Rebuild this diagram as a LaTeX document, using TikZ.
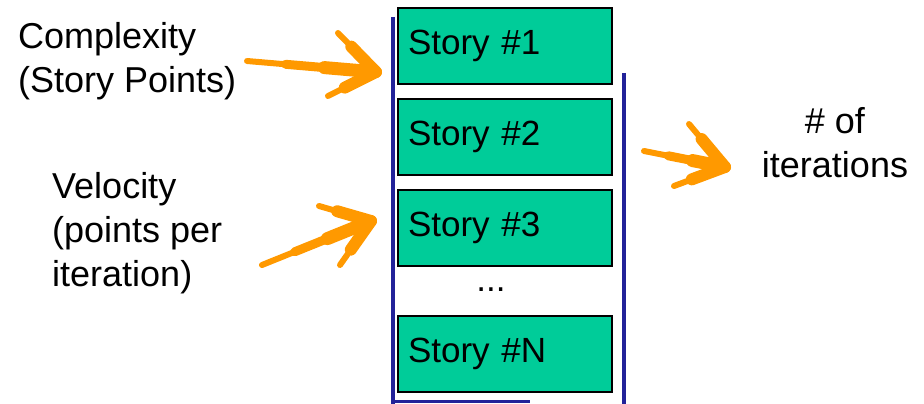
\documentclass[tikz,border=0pt]{standalone}
\usepackage{fontspec}
\setmainfont{Liberation Sans}
\usetikzlibrary{calc}
\begin{document}
\begin{tikzpicture}[x=1pt,y=-1pt,
  storybox/.style={draw=black, line width=2pt, fill=storygreen, rectangle,
    text width=194pt, align=left, inner xsep=10pt, inner ysep=0pt,
    minimum height=76pt, anchor=north west,
    font=\fontsize{35}{42}\selectfont},
  label/.style={inner sep=0pt, font=\fontsize{36}{44}\selectfont},
  brush/.style={draw=brushorange, line cap=round, line join=round},
  frame/.style={draw=framebluedark, line width=4.5pt}
]
\definecolor{storygreen}{RGB}{0,204,153}
\definecolor{brushorange}{RGB}{255,153,0}
\definecolor{framebluedark}{RGB}{34,34,153}
\useasboundingbox (0,0) rectangle (924,404);

% the stack of stories
\node[storybox] (s1) at (397,7)   {Story \#1};
\node[storybox] (s2) at (397,98)  {Story \#2};
\node[storybox] (s3) at (397,189) {Story \#3};
\node[label, font=\fontsize{35}{42}\selectfont] (dots) at (491,290) {...};
\node[storybox] (sn) at (397,315) {Story \#N};

% the backlog bracket around the stack
\coordinate (fl) at (393,17);
\coordinate (fr) at (624,73);
\draw[frame] (fl) -- (393,404);
\draw[frame] (fr) -- (624,404);
\draw[framebluedark, line width=3pt] (393,401) -- (530,401);

% labels
\node[label, align=left, anchor=north west] (cx) at (18,22)
  {Complexity\\(Story Points)};
\node[label, align=left, anchor=north west] (vel) at (52,172)
  {Velocity\\(points per\\iteration)};
\node[label, align=center, anchor=north] (it) at (835,107)
  {\# of\\iterations};

% hand-brushed arrows
\coordinate (a1t) at (247,61);  \coordinate (a1p) at (376,72);
\coordinate (a1u) at (338,33);  \coordinate (a1l) at (328,96);
\coordinate (a2t) at (262,265); \coordinate (a2p) at (371,221);
\coordinate (a2u) at (319,206); \coordinate (a2l) at (340,265);
\coordinate (a3t) at (644,151); \coordinate (a3p) at (725,167);
\coordinate (a3u) at (689,124); \coordinate (a3l) at (674,186);

\foreach \t/\p/\u/\l in {a1t/a1p/a1u/a1l, a2t/a2p/a2u/a2l, a3t/a3p/a3u/a3l}{
  \draw[brush, line width=6pt] (\t) -- ($(\t)!0.5!(\p)$);
  \draw[brush, line width=9pt] ($(\t)!0.3!(\p)$) -- ($(\t)!0.7!(\p)$);
  \draw[brush, line width=13pt] ($(\t)!0.6!(\p)$) -- ($(\t)!0.95!(\p)$);
  \draw[brush, line width=6pt] (\u) -- ($(\u)!0.5!(\p)$);
  \draw[brush, line width=12pt] ($(\u)!0.35!(\p)$) -- (\p);
  \draw[brush, line width=12pt] (\p) -- ($(\p)!0.65!(\l)$);
  \draw[brush, line width=6pt] ($(\p)!0.5!(\l)$) -- (\l);
}
\end{tikzpicture}
\end{document}
